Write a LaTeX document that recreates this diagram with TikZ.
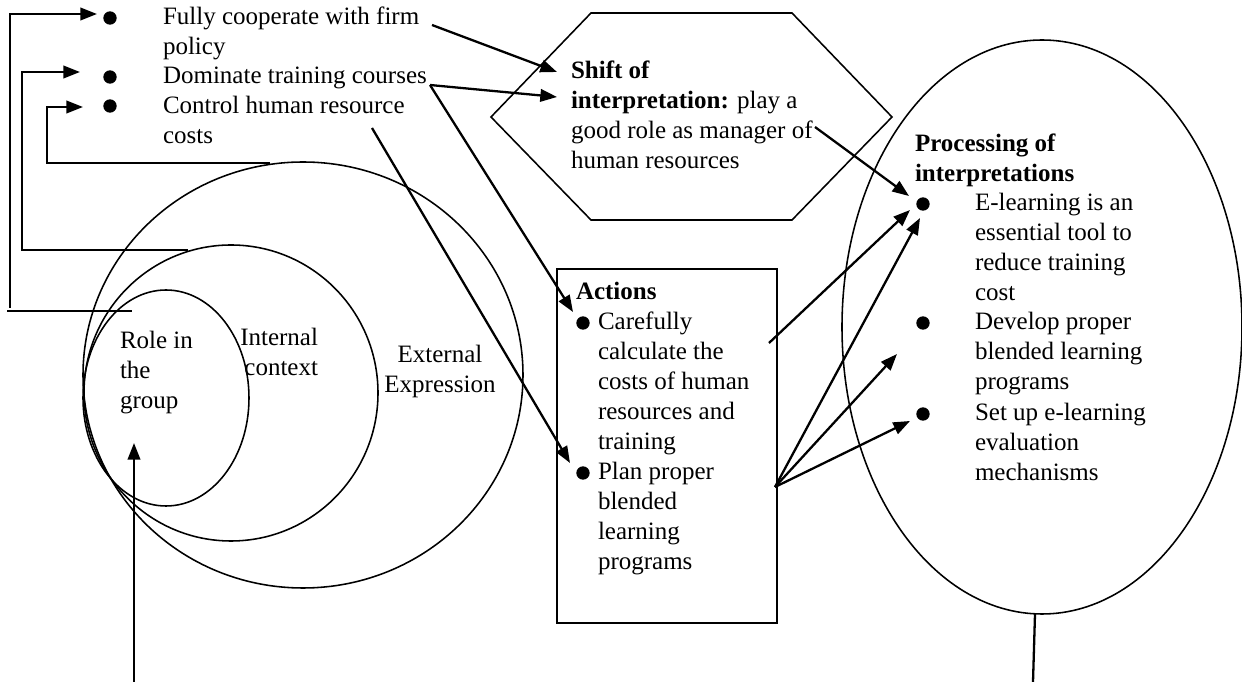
\documentclass[tikz,border=0pt]{standalone}
\usepackage{fontspec}
\setmainfont{Liberation Serif}
\usetikzlibrary{arrows.meta}
\begin{document}
\begin{tikzpicture}[x=0.48pt,y=-0.48pt,
  txt/.style={font=\fontsize{12}{14.4}\selectfont, inner sep=0pt, outer sep=0pt, align=left, anchor=north west},
  bul/.style={circle, fill=black, inner sep=0pt, minimum size=6.4pt},
  shp/.style={line width=0.75pt},
  arr/.style={line width=1.1pt, -{Triangle[length=8pt,width=6pt]}},
  ln/.style={line width=1.1pt}]
\useasboundingbox (0,0) rectangle (1242,682);

% ---- shapes ----
\draw[shp] (303,375) ellipse [x radius=220, y radius=213];
\draw[shp] (231,393) ellipse [x radius=147, y radius=148];
\draw[shp] (166,398) ellipse [x radius=83, y radius=108];
\draw[shp] (591,13) -- (792,13) -- (892,117) -- (792,220) -- (591,220) -- (491,117) -- cycle;
\node[draw, shp, anchor=north west, inner sep=0pt, minimum width=105.6pt, minimum height=169.9pt] (actbox) at (556,268) {};
\draw[shp] (1042,327) ellipse [x radius=200, y radius=287];

% ---- left list ----
\node[bul] (b1) at (110,18) {};
\node[bul] (b2) at (110,77) {};
\node[bul] (b3) at (110,106) {};
\node[txt] (fully) at (163,4) {\strut Fully cooperate with firm\\policy};
\node[txt] (dom) at (163,63) {\strut Dominate training courses};
\node[txt] (ctrl) at (163,93) {\strut Control human resource\\costs};

% ---- circle labels ----
\node[txt] (role) at (120,328) {\strut Role in\\the\\group};
\node[txt, anchor=north east, align=right] (internal) at (318,325) {\strut Internal\\context};
\node[txt, anchor=north, align=center] (external) at (440,342) {\strut External\\Expression};

% ---- hexagon text ----
\node[txt] (shift) at (571,58) {\strut\textbf{Shift of}\\\textbf{interpretation:} play a\\good role as manager of\\human resources};

% ---- actions ----
\node[txt] (acthead) at (576,279) {\strut\textbf{Actions}};
\node[bul] (ab1) at (583,323) {};
\node[bul] (ab2) at (583,473) {};
\node[txt] (act1) at (598,309) {\strut Carefully\\calculate the\\costs of human\\resources and\\training};
\node[txt] (act2) at (598,459) {\strut Plan proper\\blended\\learning\\programs};

% ---- processing ----
\node[txt] (prochead) at (915,131) {\strut\textbf{Processing of}\\\textbf{interpretations}};
\node[bul] (pb1) at (923,204) {};
\node[bul] (pb2) at (923,323) {};
\node[bul] (pb3) at (923,414) {};
\node[txt] (p1) at (975,190) {\strut E-learning is an\\essential tool to\\reduce training\\cost};
\node[txt] (p2) at (975,309) {\strut Develop proper\\blended learning\\programs};
\node[txt] (p3) at (975,400) {\strut Set up e-learning\\evaluation\\mechanisms};

% ---- coordinates for connector ends ----
\coordinate (l1a) at (7,311);   \coordinate (l1b) at (132,311);
\coordinate (l1s) at (10,308);  \coordinate (l1t) at (97,14);
\coordinate (l2s) at (188,250); \coordinate (l2t) at (80,72);
\coordinate (l3s) at (270,163); \coordinate (l3t) at (83,107);
\coordinate (fe) at (432,25);   \coordinate (ht1) at (557,72);
\coordinate (de) at (430,85);   \coordinate (ht2) at (557,97);
\coordinate (at1) at (573,312);
\coordinate (ce) at (372,128);  \coordinate (at2) at (570,463);
\coordinate (me) at (815,127);  \coordinate (pt1) at (909,196);
\coordinate (cs) at (769,343);  \coordinate (pt2) at (910,210);
\coordinate (as) at (775,487);
\coordinate (pt3) at (920,218); \coordinate (pt4) at (897,354); \coordinate (pt5) at (910,421);
\coordinate (rb) at (134,682);  \coordinate (rt) at (134,443);
\coordinate (eb) at (1035,614); \coordinate (ee) at (1033,682);

% ---- connectors ----
\draw[ln] (l1a) -- (l1b);
\draw[arr] (l1s) |- (l1t);
\draw[arr] (l2s) -| (22,72) -- (l2t);
\draw[arr] (l3s) -| (47,107) -- (l3t);
\draw[arr] (fe) -- (ht1);
\draw[arr] (de) -- (ht2);
\draw[arr] (de) -- (at1);
\draw[arr] (ce) -- (at2);
\draw[arr] (me) -- (pt1);
\draw[arr] (cs) -- (pt2);
\draw[arr] (as) -- (pt3);
\draw[arr] (as) -- (pt4);
\draw[arr] (as) -- (pt5);
\draw[arr] (rb) -- (rt);
\draw[ln] (eb) -- (ee);
\end{tikzpicture}
\end{document}
